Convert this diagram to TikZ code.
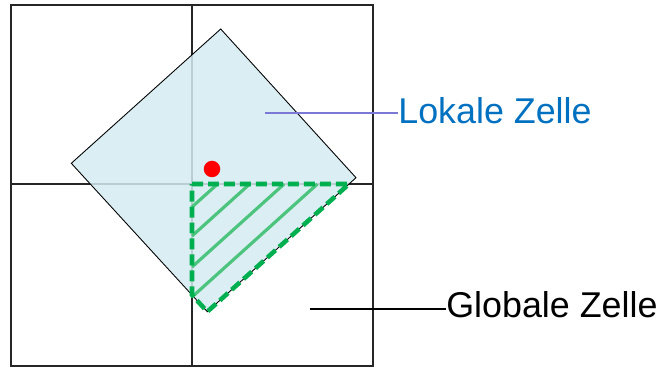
\documentclass[tikz,border=0pt]{standalone}
\usepackage{fontspec}
\setmainfont{Liberation Sans}
\usetikzlibrary{arrows.meta,positioning}
\definecolor{cellfill}{RGB}{211,235,241}
\definecolor{labelblue}{RGB}{0,112,192}
\definecolor{leaderblue}{RGB}{122,122,214}
\definecolor{dashgreen}{RGB}{0,176,80}
\definecolor{hatchgreen}{RGB}{76,196,125}
\begin{document}
\begin{tikzpicture}[x=0.02cm,y=-0.02cm,
  gridline/.style={draw=black!85,line width=0.6pt},
  localcell/.style={draw=black,line width=0.5pt,fill=cellfill,fill opacity=0.85},
  hatchline/.style={draw=hatchgreen,line width=1.8pt},
  dashedge/.style={draw=dashgreen,line width=2.6pt,dash pattern=on 0.22cm off 0.1cm},
  celllabel/.style={anchor=west,inner sep=0pt,font=\fontsize{20.4}{24}\selectfont}]
\useasboundingbox (0,0) rectangle (662,367);
% global grid
\draw[gridline] (11,5) rectangle (373,366);
\draw[gridline] (192,5) -- (192,366);
\draw[gridline] (11,184) -- (373,184);
% local cell (rotated square)
\coordinate (lt) at (220.7,29);
\coordinate (lr) at (356,177.7);
\coordinate (lb) at (207.3,311.7);
\coordinate (ll) at (71.3,163.3);
\draw[localcell] (lt) -- (lr) -- (lb) -- (ll) -- cycle;
% overlap with lower right quadrant
\coordinate (gc) at (192,184);
\coordinate (gp) at (intersection of lb--lr and 11,184--373,184);
\coordinate (gq) at (intersection of ll--lb and 192,5--192,366);
\foreach \d in {23,52,83,113}
  \draw[hatchline] (192,{184+\d}) -- ({192+1.11*\d},184);
\draw[dashedge] (gc) -- (gp) -- (lb) -- (gq) -- cycle;
\fill[red] (212,169) circle (0.165cm);
% labels
\node[celllabel,text=labelblue] (lokal) at (398,111) {Lokale Zelle};
\node[celllabel,text=black] (global) at (446,305) {Globale Zelle};
\coordinate (lokalpt) at (265,113);
\coordinate (globalpt) at (310,309);
\draw[leaderblue,line width=1.3pt] (lokalpt) -- (lokalpt -| lokal.west);
\draw[black,line width=1.3pt] (globalpt) -- (globalpt -| global.west);
\end{tikzpicture}
\end{document}
